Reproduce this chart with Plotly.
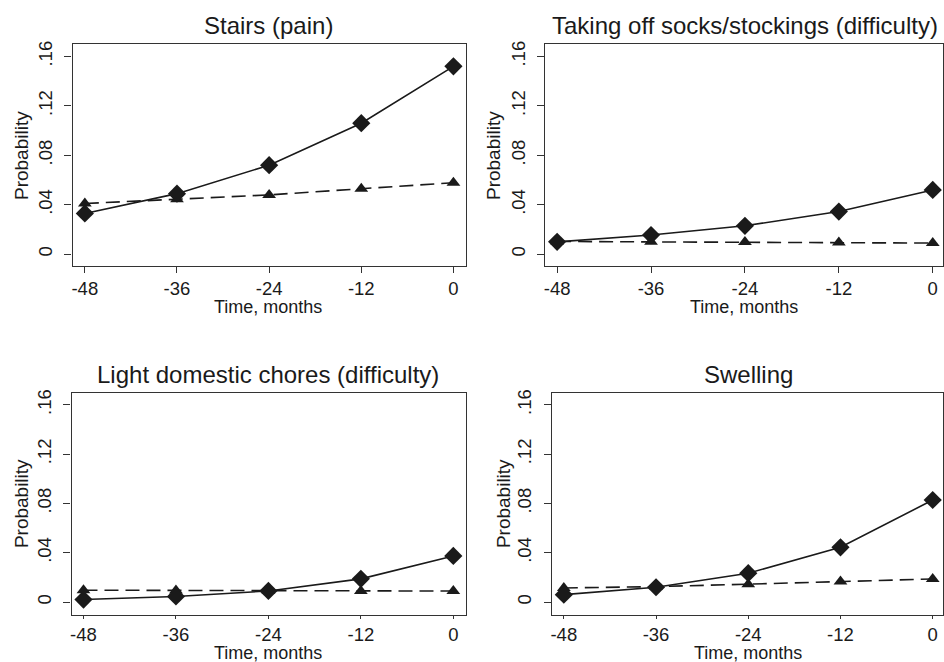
import plotly.graph_objects as go

months = [-48, -36, -24, -12, 0]
titles = ["Stairs (pain)", "Taking off socks/stockings (difficulty)",
          "Light domestic chores (difficulty)", "Swelling"]
x_title = "Time, months"
y_title = "Probability"

# solid line, diamonds
stairs_a = [0.033, 0.049, 0.072, 0.106, 0.152]
socks_a = [0.010, 0.0155, 0.023, 0.0345, 0.052]
chores_a = [0.002, 0.0045, 0.009, 0.0188, 0.0374]
swell_a = [0.006, 0.012, 0.0234, 0.0444, 0.0828]

# dashed line, triangles
stairs_b = [0.041, 0.0445, 0.048, 0.053, 0.0578]
socks_b = [0.0103, 0.0101, 0.0098, 0.0094, 0.009]
chores_b = [0.0096, 0.0094, 0.0092, 0.009, 0.0089]
swell_b = [0.0114, 0.0125, 0.0145, 0.0167, 0.0187]

y_ticks = [0, 0.04, 0.08, 0.12, 0.16]
y_ticklabels = ["0", ".04", ".08", ".12", ".16"]
x_ticks = [-48, -36, -24, -12, 0]
x_ticklabels = ["-48", "-36", "-24", "-12", "0"]

series_a = [stairs_a, socks_a, chores_a, swell_a]
series_b = [stairs_b, socks_b, chores_b, swell_b]

W, H = 944, 662
# pixel geometry: plot box, axis ranges, title centre, axis-title centres
panels = [
    dict(l=71.7, r=465.7, t=40.7, b=263.3, xr=[-49.6, 1.6], yr=[-0.0093, 0.1697],
         tx=268, ty=21.7, xtx=268, xty=305, ytx=20.5, yty=152.5, tl=6),
    dict(l=545.3, r=944, t=40.7, b=263.3, xr=[-49.53, 1.31], yr=[-0.0093, 0.1697],
         tx=746, ty=21.7, xtx=745, xty=305, ytx=493.5, yty=152.5, tl=6),
    dict(l=70.7, r=465.7, t=391.7, b=614.3, xr=[-49.55, 1.61], yr=[-0.0102, 0.1694],
         tx=268, ty=372.7, xtx=268, xty=653, ytx=20.5, yty=502.7, tl=3),
    dict(l=552, r=944, t=391.7, b=614.3, xr=[-49.56, 1.34], yr=[-0.0102, 0.1694],
         tx=748.7, ty=372.7, xtx=749, xty=653, ytx=503.5, yty=502.7, tl=3),
]

FONT = "Liberation Sans, Arial, sans-serif"
INK = "#1a1a1a"

fig = go.Figure()
layout = dict(
    width=W, height=H, margin=dict(l=0, r=0, t=0, b=0),
    paper_bgcolor="white", plot_bgcolor="white", showlegend=False,
    font=dict(family=FONT, color=INK),
)
annotations = []
for i, p in enumerate(panels):
    idx = "" if i == 0 else str(i + 1)
    xa = "x" + idx
    ya = "y" + idx
    fig.add_trace(go.Scatter(
        x=months, y=series_b[i], xaxis=xa, yaxis=ya, mode="lines+markers",
        line=dict(color=INK, width=1.6, dash="14px,7px"),
        marker=dict(symbol="triangle-up", size=12, color=INK),
    ))
    fig.add_trace(go.Scatter(
        x=months, y=series_a[i], xaxis=xa, yaxis=ya, mode="lines+markers",
        line=dict(color=INK, width=1.6),
        marker=dict(symbol="diamond", size=14, color=INK),
    ))
    layout["xaxis" + idx] = dict(
        domain=[p["l"] / W, min(p["r"] / W, 1.0)], range=p["xr"], anchor=ya,
        tickvals=x_ticks, ticktext=x_ticklabels, ticks="outside", ticklen=p["tl"],
        tickcolor="#333", showline=True, linecolor="#333", linewidth=1.2, mirror=True,
        showgrid=False, zeroline=False, tickfont=dict(size=18.5, color=INK),
        ticklabelstandoff=0,
    )
    layout["yaxis" + idx] = dict(
        domain=[(H - p["b"]) / H, (H - p["t"]) / H], range=p["yr"], anchor=xa,
        tickvals=y_ticks, ticktext=y_ticklabels, ticks="outside", ticklen=7,
        tickcolor="#333", showline=True, linecolor="#333", linewidth=1.2, mirror=True,
        showgrid=False, zeroline=False, tickangle=-90, tickfont=dict(size=18.5, color=INK),
        ticklabelstandoff=5,
    )
    annotations.append(dict(
        text=titles[i], x=p["tx"] / W, y=1 - p["ty"] / H, xref="paper", yref="paper",
        xanchor="center", yanchor="middle", showarrow=False,
        font=dict(size=24, color=INK, family=FONT),
    ))
    annotations.append(dict(
        text=x_title, x=p["xtx"] / W, y=1 - p["xty"] / H, xref="paper", yref="paper",
        xanchor="center", yanchor="middle", showarrow=False,
        font=dict(size=18, color=INK, family=FONT),
    ))
    annotations.append(dict(
        text=y_title, x=p["ytx"] / W, y=1 - p["yty"] / H, xref="paper", yref="paper",
        xanchor="center", yanchor="middle", showarrow=False, textangle=-90,
        font=dict(size=19, color=INK, family=FONT),
    ))
layout["annotations"] = annotations
fig.update_layout(**layout)
fig.write_html("out.html", config={"displayModeBar": False},
               post_script="document.body.style.margin='0';document.body.style.overflow='hidden';")
